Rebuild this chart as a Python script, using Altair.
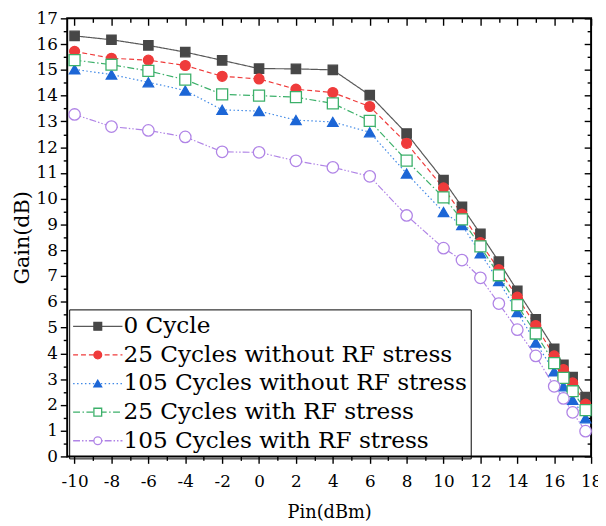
import altair as alt
import pandas as pd

pin = [-10, -8, -6, -4, -2, 0, 2, 4, 6, 8, 10, 11, 12, 13, 14, 15, 16, 16.5, 17, 17.7]
series_names = ["0 Cycle", "25 Cycles without RF stress", "105 Cycles without RF stress",
                "25 Cycles with RF stress", "105 Cycles with RF stress"]
series_keys = ["a", "b", "c", "d", "e"]
size_keys = ["s1", "s2", "s3", "s4", "s5"]
gain_0 = [16.32, 16.17, 15.95, 15.69, 15.37, 15.05, 15.04, 15.0, 14.02, 12.53, 10.72, 9.69, 8.64, 7.56, 6.43, 5.32, 4.18, 3.55, 3.08, 2.30]
gain_25 = [15.72, 15.45, 15.38, 15.17, 14.75, 14.65, 14.25, 14.12, 13.58, 12.15, 10.42, 9.40, 8.30, 7.25, 6.18, 5.08, 3.90, 3.37, 2.85, 2.03]
gain_105 = [15.02, 14.82, 14.52, 14.20, 13.45, 13.40, 13.05, 12.98, 12.58, 10.98, 9.48, 8.98, 7.88, 6.80, 5.60, 4.42, 3.30, 2.72, 2.20, 1.48]
gain_25rf = [15.38, 15.20, 14.96, 14.62, 14.05, 14.00, 13.94, 13.70, 13.02, 11.48, 10.05, 9.20, 8.15, 7.03, 5.87, 4.77, 3.62, 3.05, 2.53, 1.80]
gain_105rf = [13.27, 12.80, 12.65, 12.40, 11.82, 11.80, 11.47, 11.22, 10.87, 9.35, 8.08, 7.62, 6.93, 5.93, 4.92, 3.90, 2.72, 2.25, 1.71, 0.98]

x_major = [-10, -8, -6, -4, -2, 0, 2, 4, 6, 8, 10, 12, 14, 16, 18]
x_minor = [-9, -7, -5, -3, -1, 1, 3, 5, 7, 9, 11, 13, 15, 17]
y_major = list(range(0, 18))
y_minor = [v + 0.5 for v in range(0, 17)]

line_colors = ["#595959", "#ef3b3b", "#3f88e6", "#3cb06a", "#b084e6"]
dashes = [[1, 0], [5, 3], [1.5, 2.5], [7, 2.5, 1.5, 2.5], [7, 2, 1.5, 2, 1.5, 2]]
shapes = ["square", "circle", "triangle-up", "square", "circle"]
fills = ["#474747", "#ef3b3b", "#1c66d6", "#ffffff", "#ffffff"]
strokes = ["#474747", "#ef3b3b", "#1c66d6", "#3cb06a", "#b084e6"]
sizes = [90, 135, 150, 80, 110]

all_gains = [gain_0, gain_25, gain_105, gain_25rf, gain_105rf]
rows = []
for name, key, sk, g in zip(series_names, series_keys, size_keys, all_gains):
    for xv, yv in zip(pin, g):
        rows.append({"pin": xv, "gain": yv, "series": name, "key": key, "sk": sk})
df = pd.DataFrame(rows)

FONT = "DejaVu Serif"
xs = alt.Scale(domain=[-10.4, 18], nice=False, zero=False)
ys = alt.Scale(domain=[0, 17], nice=False)

def ax(orient, values, size, labels=False, offset=0, **kw):
    return alt.Axis(orient=orient, values=values, tickSize=size, tickWidth=1.4, tickColor="black",
                    domain=False, grid=False, labels=labels, offset=offset, **kw)

x_main = ax("bottom", x_major, 7, labels=True, title="Pin(dBm)", labelFont=FONT, labelFontSize=17,
            labelColor="black", labelPadding=11, labelFlush=False, labelOverlap=False,
            labelExpr="'' + datum.value", titleFont=FONT, titleFontSize=18, titleFontWeight="normal",
            titleColor="black", titlePadding=14)
y_main = ax("left", y_major, 7, labels=True, title="Gain(dB)", labelFont=FONT, labelFontSize=17,
            labelColor="black", labelPadding=3, labelOverlap=False, titleFont=FONT, titleFontSize=21,
            titleFontWeight="normal", titleColor="black", titlePadding=4)

base = alt.Chart(df)

LX, LY = 2, 295
legA = dict(orient="none", legendX=LX, legendY=LY, direction="vertical", title=None,
            symbolType="stroke", symbolSize=2500, symbolStrokeWidth=1.3,
            labelFont=FONT, labelFontSize=23.5, labelColor="black", labelOffset=0, labelLimit=1000,
            clipHeight=28.25, rowPadding=0, padding=3, strokeColor="black", cornerRadius=0)
legB = dict(orient="none", legendX=LX, legendY=LY, direction="vertical", title=None,
            symbolSize=62, symbolStrokeWidth=1.3, symbolOffset=14.25, symbolOpacity=1,
            labelFont=FONT, labelFontSize=23.5, labelExpr="''", labelOffset=0,
            clipHeight=28.25, rowPadding=0, padding=3, strokeColor="transparent")

lines = base.mark_line(strokeWidth=1.2).encode(
    x=alt.X("pin:Q", scale=xs, axis=x_main),
    y=alt.Y("gain:Q", scale=ys, axis=y_main),
    color=alt.Color("series:N", scale=alt.Scale(domain=series_names, range=line_colors),
                    legend=alt.Legend(**legA)),
    strokeDash=alt.StrokeDash("series:N", scale=alt.Scale(domain=series_names, range=dashes),
                              legend=alt.Legend(**legA)),
)

points = base.mark_point(opacity=1, strokeWidth=1.3).encode(
    x=alt.X("pin:Q", scale=xs, axis=ax("bottom", x_minor, 4, title=None)),
    y=alt.Y("gain:Q", scale=ys, axis=ax("left", y_minor, 4, title=None)),
    shape=alt.Shape("key:N", scale=alt.Scale(domain=series_keys, range=shapes), legend=alt.Legend(**legB)),
    fill=alt.Fill("key:N", scale=alt.Scale(domain=series_keys, range=fills), legend=alt.Legend(**legB)),
    stroke=alt.Stroke("key:N", scale=alt.Scale(domain=series_keys, range=strokes), legend=alt.Legend(**legB)),
    size=alt.Size("sk:N", scale=alt.Scale(domain=size_keys, range=sizes), legend=None),
)

top_right_major = base.mark_point(opacity=0, size=0).encode(
    x=alt.X("pin:Q", scale=xs, axis=ax("top", x_major, 7, offset=-7, title=None)),
    y=alt.Y("gain:Q", scale=ys, axis=ax("right", y_major, 7, offset=-7, title=None)),
)
top_right_minor = base.mark_point(opacity=0, size=0).encode(
    x=alt.X("pin:Q", scale=xs, axis=ax("top", x_minor, 4, offset=-4, title=None)),
    y=alt.Y("gain:Q", scale=ys, axis=ax("right", y_minor, 4, offset=-4, title=None)),
)

chart = alt.layer(lines, points, top_right_major, top_right_minor).resolve_axis(
    x="independent", y="independent"
).properties(
    width=531, height=444,
    autosize=alt.AutoSizeParams(type="none"),
    padding={"left": 60, "top": 7, "right": 7, "bottom": 65},
).configure_view(stroke="black", strokeWidth=2).configure_axis(
    titleFont=FONT, titleFontWeight="normal", titleColor="black"
).configure_axisBottom(titleFontSize=18)

chart.save("out.html", embed_options={"renderer": "svg", "actions": False})
